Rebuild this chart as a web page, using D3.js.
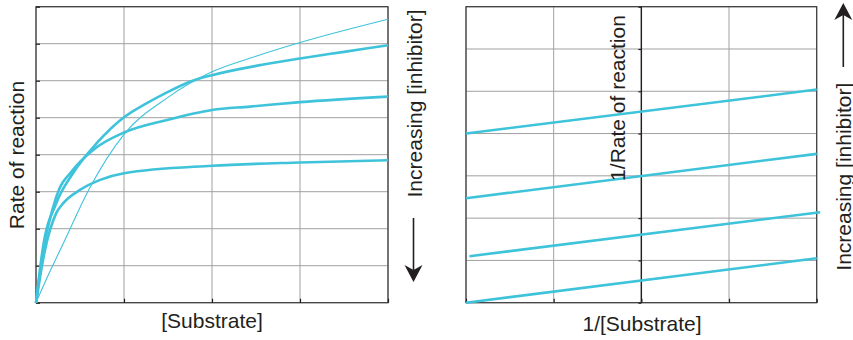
<!DOCTYPE html>
<html>
<head>
<meta charset="UTF-8" />
<script src="https://cdn.jsdelivr.net/npm/d3@7"></script>
<style>
  body { margin: 0; background: #fff; }
  text { font-family: "Liberation Sans", Arial, sans-serif; fill: #231f20; }
</style>
</head>
<body>
<div id="app"></div>
<script>
// ---- data ----
// left panel: rate vs [substrate], x 0..4, y 0..8
const mmXTicks = [0, 1, 2, 3, 4];
const mmYTicks = [0, 1, 2, 3, 4, 5, 6, 7, 8];
const mmThin = [[0,0],[0.15,0.8],[0.31,1.6],[0.61,3.1],[1,4.55],[1.5,5.55],[2,6.24],[2.5,6.66],[3,7.03],[4,7.66]];
const mmTop = [[0,0],[0.08,1.51],[0.23,2.69],[0.42,3.5],[0.69,4.31],[1,5.01],[1.25,5.38],[1.5,5.7],[1.78,6.0],[2,6.15],[2.5,6.4],[3,6.6],[3.5,6.78],[4,6.96]];
const mmMid = [[0,0],[0.08,1.35],[0.23,2.86],[0.42,3.59],[0.65,4.13],[1,4.6],[1.49,4.94],[2,5.21],[2.43,5.3],[3,5.42],[4,5.57]];
const mmLow = [[0,0],[0.1,1.4],[0.23,2.42],[0.31,2.69],[0.5,3.05],[0.73,3.32],[1,3.5],[2,3.7],[3,3.79],[4,3.85]];

// right panel: Lineweaver-Burk, x -2..2, y 0..7
const lbXTicks = [-2, -1, 0, 1, 2];
const lbYTicks = [0, 1, 2, 3, 4, 5, 6, 7];
const lbStartX = [-2, -2, -1.96, -2];
const lbEndX = [2, 2, 2.04, 2];
const lbStartY = [4.0, 2.47, 1.10, 0];
const lbEndY = [5.04, 3.52, 2.14, 1.05];

const W = 853, H = 340;
const cyan = "#3ec3da";
const ink = "#231f20";

const svg = d3.select("#app").append("svg")
  .attr("width", W).attr("height", H);

function panel(xs, ys, xTicks, yTicks) {
  const g = svg.append("g");
  const [x0, x1] = xs.range(), [y0, y1] = ys.range();
  g.selectAll(".vg").data(xTicks).enter().append("line")
    .attr("x1", d => xs(d)).attr("x2", d => xs(d))
    .attr("y1", y0).attr("y2", y1)
    .attr("stroke", "#a0a0a0").attr("stroke-width", 1);
  g.selectAll(".hg").data(yTicks).enter().append("line")
    .attr("x1", x0).attr("x2", x1)
    .attr("y1", d => ys(d)).attr("y2", d => ys(d))
    .attr("stroke", "#a0a0a0").attr("stroke-width", 1);
  g.append("rect")
    .attr("x", x0).attr("y", y1)
    .attr("width", x1 - x0).attr("height", y0 - y1)
    .attr("fill", "none").attr("stroke", "#3a3a3a").attr("stroke-width", 1.2);
  return g;
}

function styleAxis(a) {
  a.select(".domain").remove();
  a.selectAll(".tick line").attr("stroke", ink).attr("stroke-width", 1.2);
}

// vertical arrow: shaft from y1 to tip y2, filled head
function arrow(x, y1, y2) {
  const dir = y2 > y1 ? 1 : -1;
  svg.append("line")
    .attr("x1", x).attr("x2", x).attr("y1", y1).attr("y2", y2 - dir * 10)
    .attr("stroke", ink).attr("stroke-width", 1.6);
  const p = d3.path();
  p.moveTo(x, y2);
  p.lineTo(x - 9, y2 - dir * 17);
  p.lineTo(x, y2 - dir * 12);
  p.lineTo(x + 9, y2 - dir * 17);
  p.closePath();
  svg.append("path").attr("d", p.toString()).attr("fill", ink);
}

// ---- left panel ----
const xL = d3.scaleLinear().domain([0, 4]).range([36, 388]);
const yL = d3.scaleLinear().domain([0, 8]).range([302.7, 6.7]);
const gL = panel(xL, yL, mmXTicks, mmYTicks);

gL.append("g").attr("transform", "translate(" + xL(0) + ",0)")
  .call(d3.axisLeft(yL).tickValues(mmYTicks).tickSize(-4).tickFormat(""))
  .call(styleAxis);
gL.append("g").attr("transform", "translate(0," + yL(0) + ")")
  .call(d3.axisBottom(xL).tickValues(mmXTicks).tickSize(-4).tickFormat(""))
  .call(styleAxis);

const lineL = d3.line().x(d => xL(d[0])).y(d => yL(d[1])).curve(d3.curveMonotoneX);
[[mmThin, 1.1], [mmTop, 2.6], [mmMid, 2.6], [mmLow, 2.6]].forEach(([pts, w]) => {
  gL.append("path").attr("d", lineL(pts))
    .attr("fill", "none").attr("stroke", cyan)
    .attr("stroke-width", w).attr("stroke-linejoin", "round");
});

svg.append("text")
  .attr("transform", "translate(23.5,155) rotate(-90)")
  .attr("text-anchor", "middle").attr("font-size", 21)
  .text("Rate of reaction");
svg.append("text")
  .attr("x", 212).attr("y", 328)
  .attr("text-anchor", "middle").attr("font-size", 21)
  .text("[Substrate]");
svg.append("text")
  .attr("transform", "translate(421.5,103.5) rotate(-90)")
  .attr("text-anchor", "middle").attr("font-size", 21)
  .text("Increasing [inhibitor]");
arrow(413.5, 218, 282);

// ---- right panel ----
const xR = d3.scaleLinear().domain([-2, 2]).range([466, 816.7]);
const yR = d3.scaleLinear().domain([0, 7]).range([302.7, 6.7]);
const gR = panel(xR, yR, lbXTicks, lbYTicks);

gR.append("g").attr("transform", "translate(0," + yR(0) + ")")
  .call(d3.axisBottom(xR).tickValues(lbXTicks).tickSize(-4).tickFormat(""))
  .call(styleAxis);
gR.append("line")
  .attr("x1", xR(0)).attr("x2", xR(0)).attr("y1", yR(0)).attr("y2", yR(7))
  .attr("stroke", ink).attr("stroke-width", 1.4);
gR.append("g").attr("transform", "translate(" + xR(0) + ",0)")
  .call(d3.axisLeft(yR).tickValues(lbYTicks).tickSize(3).tickFormat(""))
  .call(styleAxis);

svg.append("text")
  .attr("transform", "translate(625,98) rotate(-90)")
  .attr("text-anchor", "middle").attr("font-size", 21)
  .text("1/Rate of reaction");

gR.selectAll(".lb").data(lbStartY).enter().append("line")
  .attr("x1", (d, i) => xR(lbStartX[i])).attr("x2", (d, i) => xR(lbEndX[i]))
  .attr("y1", d => yR(d)).attr("y2", (d, i) => yR(lbEndY[i]))
  .attr("stroke", cyan).attr("stroke-width", 2.6);

svg.append("text")
  .attr("x", 642).attr("y", 331)
  .attr("text-anchor", "middle").attr("font-size", 21)
  .text("1/[Substrate]");
svg.append("text")
  .attr("transform", "translate(850.5,176.7) rotate(-90)")
  .attr("text-anchor", "middle").attr("font-size", 21)
  .text("Increasing [inhibitor]");
arrow(843.3, 67, 3);
</script>
</body>
</html>
